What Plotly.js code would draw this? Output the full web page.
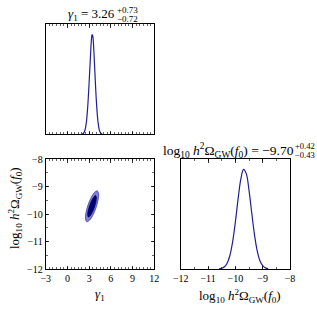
<!DOCTYPE html>
<html><head><meta charset="utf-8">
<script src="https://cdn.plot.ly/plotly-3.0.1.min.js"></script>
<style>html,body{margin:0;padding:0;background:#fff}#c{width:317px;height:309px}</style>
</head><body><div id="c"></div>
<script>
// Marginal posterior of gamma_1 (normalised density)
const gammaX = [2.0, 2.2, 2.4, 2.6, 2.8, 3.0, 3.1, 3.2, 3.3, 3.4, 3.5, 3.6, 3.7, 3.8, 4.0, 4.2, 4.4, 4.6, 4.8];
const gammaY = [0.0014, 0.008, 0.035, 0.11, 0.27, 0.52, 0.66, 0.80, 0.93, 0.995, 0.98, 0.90, 0.76, 0.61, 0.33, 0.14, 0.045, 0.011, 0.002];
// Marginal posterior of log10 h^2 Omega_GW(f0)
const omegaX = [-10.6, -10.5, -10.4, -10.3, -10.2, -10.1, -10.0, -9.9, -9.8, -9.7, -9.6, -9.5, -9.4, -9.3, -9.2, -9.1, -9.0, -8.9, -8.8];
const omegaY = [0.002, 0.007, 0.022, 0.058, 0.135, 0.271, 0.469, 0.699, 0.899, 0.997, 0.954, 0.787, 0.560, 0.344, 0.182, 0.083, 0.033, 0.011, 0.003];
// 2D credible contours (boundary points)
const outerX = [4.13, 4.31, 4.24, 3.95, 3.51, 3.04, 2.67, 2.49, 2.56, 2.85, 3.29, 3.76, 4.13];
const outerY = [-9.16, -9.26, -9.48, -9.77, -10.05, -10.23, -10.28, -10.18, -9.96, -9.67, -9.40, -9.21, -9.16];
const innerX = [3.91, 4.01, 3.95, 3.74, 3.44, 3.13, 2.89, 2.79, 2.85, 3.06, 3.36, 3.67, 3.91];
const innerY = [-9.33, -9.40, -9.55, -9.75, -9.94, -10.07, -10.11, -10.04, -9.89, -9.69, -9.50, -9.37, -9.33];
// Tick labels
const gammaTicks = [-3, 0, 3, 6, 9, 12];
const omegaTicks = [-12, -11, -10, -9, -8];

const W = 317, H = 309;
const px = v => v / W, py = v => 1 - v / H;
const lineCol = '#1f1f9a';
const FONT = 'Liberation Serif';

const traces = [
  {x: gammaX, y: gammaY, xaxis: 'x', yaxis: 'y', mode: 'lines', line: {color: lineCol, width: 1.2, shape: 'spline'}, hoverinfo: 'skip'},
  {x: outerX, y: outerY, xaxis: 'x2', yaxis: 'y2', mode: 'lines', fill: 'toself', fillcolor: 'rgba(105,105,205,0.85)', line: {color: '#4040aa', width: 0.8, shape: 'spline'}, hoverinfo: 'skip'},
  {x: innerX, y: innerY, xaxis: 'x2', yaxis: 'y2', mode: 'lines', fill: 'toself', fillcolor: '#00006e', line: {color: '#00006e', width: 0.6, shape: 'spline'}, hoverinfo: 'skip'},
  {x: omegaX, y: omegaY, xaxis: 'x3', yaxis: 'y3', mode: 'lines', line: {color: lineCol, width: 1.2, shape: 'spline'}, hoverinfo: 'skip'}
];

const tickFont = {family: FONT, size: 10, color: '#000'};
const fmt = arr => arr.map(v => String(v).replace('-', '\u2212'));
function ax(o) {
  return Object.assign({
    showgrid: false, zeroline: false, showline: true, linecolor: '#000', linewidth: 1,
    mirror: 'ticks', ticks: 'inside', ticklen: 3.5, tickcolor: '#000', tickwidth: 0.8,
    tickfont: tickFont, fixedrange: true
  }, o);
}
const minor = {dtick: 0.5, ticks: 'inside', ticklen: 2, tickcolor: '#000', tickwidth: 0.6};
const dx1 = [45.7 / W, 154.3 / W], dx2 = [180.7 / W, 290 / W];
const dyTop = [(H - 134.3) / H, (H - 24) / H], dyBot = [(H - 269) / H, (H - 159) / H];

function f(size) { return {family: FONT, size: size, color: '#000'}; }

const layout = {
  width: W, height: H, margin: {l: 0, r: 0, t: 0, b: 0},
  paper_bgcolor: '#fff', plot_bgcolor: '#fff', showlegend: false,
  font: f(10),
  xaxis: ax({domain: dx1, anchor: 'y', range: [-3, 12], tickvals: gammaTicks, showticklabels: false, minor: minor}),
  yaxis: ax({domain: dyTop, anchor: 'x', range: [0, 1.1], ticks: '', showticklabels: false, mirror: true}),
  xaxis2: ax({domain: dx1, anchor: 'y2', range: [-3, 12], tickvals: gammaTicks, ticktext: fmt(gammaTicks), minor: minor}),
  yaxis2: ax({domain: dyBot, anchor: 'x2', range: [-12, -8], tickvals: omegaTicks, ticktext: fmt(omegaTicks), minor: minor}),
  xaxis3: ax({domain: dx2, anchor: 'y3', range: [-12, -8], tickvals: omegaTicks, ticktext: fmt(omegaTicks), minor: minor}),
  yaxis3: ax({domain: dyBot, anchor: 'x3', range: [0, 1.1], ticks: '', showticklabels: false, mirror: true}),
  annotations: [
    {text: '<i>γ</i><sub>1</sub> = 3.26', x: px(91), y: py(15), font: f(13)},
    {text: '+0.73', x: px(127), y: py(10), font: f(9)},
    {text: '\u22120.72', x: px(127), y: py(19.5), font: f(9)},
    {text: 'log<sub>10</sub> <i>h</i><sup>2</sup>Ω<sub>GW</sub>(<i>f</i><sub>0</sub>) = \u22129.70', x: px(228), y: py(150), font: f(13.5)},
    {text: '+0.42', x: px(304.5), y: py(145.5), font: f(8.5)},
    {text: '\u22120.43', x: px(304.5), y: py(154.5), font: f(8.5)},
    {text: '<i>γ</i><sub>1</sub>', x: px(100), y: py(294), font: f(13)},
    {text: 'log<sub>10</sub> <i>h</i><sup>2</sup>Ω<sub>GW</sub>(<i>f</i><sub>0</sub>)', x: px(240), y: py(296), font: f(13)},
    {text: 'log<sub>10</sub> <i>h</i><sup>2</sup>Ω<sub>GW</sub>(<i>f</i><sub>0</sub>)', x: px(15), y: py(208), textangle: -90, font: f(13)}
  ].map(a => Object.assign({xref: 'paper', yref: 'paper', showarrow: false, xanchor: 'center', yanchor: 'middle'}, a))
};

Plotly.newPlot('c', traces, layout, {staticPlot: true, displayModeBar: false});
</script></body></html>
